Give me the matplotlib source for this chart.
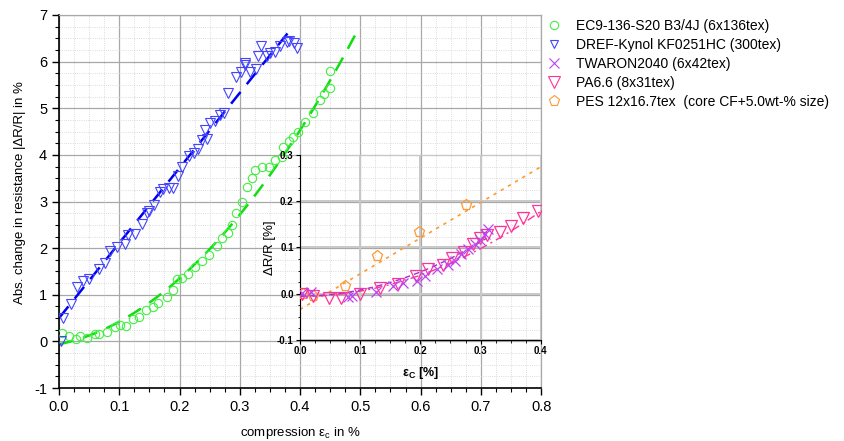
import numpy as np
import matplotlib
matplotlib.use('Agg')
import matplotlib.pyplot as plt
import matplotlib.ticker as ticker
from matplotlib.lines import Line2D

plt.rcParams['font.family'] = ['Liberation Sans', 'DejaVu Sans']
plt.rcParams['mathtext.default'] = 'regular'
plt.rcParams['axes.unicode_minus'] = False

# main plot: EC9 glass (green circles)
ec9_x = [0.0045, 0.017, 0.029, 0.035, 0.046, 0.060, 0.066, 0.079, 0.093, 0.102,
         0.111, 0.122, 0.132, 0.144, 0.156, 0.165, 0.179, 0.190, 0.195, 0.204,
         0.214, 0.226, 0.237, 0.249, 0.262, 0.270, 0.281, 0.287, 0.294, 0.303,
         0.312, 0.321, 0.325, 0.337, 0.349, 0.358, 0.370, 0.371, 0.381, 0.389,
         0.397, 0.408, 0.422, 0.433, 0.440, 0.449, 0.450]
ec9_y = [0.19, 0.12, 0.06, 0.12, 0.08, 0.15, 0.17, 0.21, 0.30, 0.35,
         0.33, 0.48, 0.53, 0.67, 0.73, 0.82, 0.95, 1.10, 1.33, 1.37,
         1.45, 1.60, 1.73, 1.85, 2.05, 2.21, 2.33, 2.50, 2.75, 2.98,
         3.32, 3.50, 3.68, 3.74, 3.75, 3.88, 3.95, 4.16, 4.29, 4.39,
         4.50, 4.71, 4.90, 5.17, 5.30, 5.44, 5.79]
ec9_fit = [22.1, 2.63, -0.06]
ec9_fit_range = [0.0, 0.493]

# main plot: DREF-Kynol (blue triangles)
dref_x = [0.003, 0.007, 0.020, 0.030, 0.040, 0.050, 0.067, 0.076, 0.085, 0.096,
          0.110, 0.115, 0.126, 0.137, 0.146, 0.150, 0.158, 0.168, 0.173, 0.183,
          0.190, 0.198, 0.204, 0.215, 0.224, 0.230, 0.237, 0.245, 0.242, 0.250,
          0.259, 0.267, 0.273, 0.281, 0.294, 0.302, 0.309, 0.309, 0.317, 0.327,
          0.331, 0.335, 0.345, 0.350, 0.359, 0.367, 0.378, 0.381, 0.390, 0.395]
dref_y = [0.02, 0.50, 0.80, 1.16, 1.30, 1.34, 1.55, 1.69, 1.93, 2.03,
          2.09, 2.28, 2.30, 2.51, 2.76, 2.80, 2.93, 3.21, 3.26, 3.30,
          3.30, 3.55, 3.75, 3.98, 4.04, 4.12, 4.32, 4.34, 4.54, 4.68,
          4.72, 4.86, 4.90, 5.32, 5.66, 5.77, 5.93, 5.97, 5.77, 5.85,
          6.11, 6.33, 6.12, 6.18, 6.20, 6.33, 6.43, 6.45, 6.40, 6.29]
dref_fit = [16.1, 0.5]
dref_fit_range = [0.0, 0.387]

# inset: TWARON (x markers)
twaron_x = [0.003, 0.018, 0.080, 0.086, 0.127, 0.155, 0.171, 0.194, 0.207, 0.227,
            0.246, 0.257, 0.268, 0.279, 0.290, 0.299, 0.307, 0.313]
twaron_y = [0.002, 0.003, -0.007, -0.004, 0.003, 0.016, 0.024, 0.027, 0.038, 0.053,
            0.063, 0.070, 0.085, 0.096, 0.107, 0.117, 0.130, 0.139]
twaron_fit = [1.3, 0.0, -0.005]
twaron_fit_range = [0.0, 0.31]

# inset: PA6.6 (pink triangles)
pa66_x = [0.004, 0.021, 0.049, 0.068, 0.100, 0.133, 0.163, 0.193, 0.213, 0.237,
          0.252, 0.273, 0.288, 0.299, 0.310, 0.332, 0.350, 0.370, 0.396]
pa66_y = [0.000, -0.006, -0.009, -0.009, 0.000, 0.013, 0.022, 0.038, 0.053, 0.063,
          0.078, 0.089, 0.107, 0.121, 0.126, 0.133, 0.146, 0.164, 0.179]
pa66_fit = [1.15, 0.0, -0.006]
pa66_fit_range = [0.0, 0.4]

# inset: PES (orange pentagons)
pes_x = [0.0055, 0.022, 0.075, 0.128, 0.198, 0.275]
pes_y = [0.000, -0.005, 0.016, 0.081, 0.133, 0.192]
pes_fit = [0.77, -0.034]
pes_fit_range = [0.0, 0.4]

labels = ['EC9-136-S20 B3/4J (6x136tex)', 'DREF-Kynol KF0251HC (300tex)',
          'TWARON2040 (6x42tex)', 'PA6.6 (8x31tex)',
          'PES 12x16.7tex  (core CF+5.0wt-% size)']

c_green, c_green_fit = '#44ee44', '#11dd11'
c_blue, c_blue_fit = '#4444ff', '#0000ee'
c_purple, c_purple_fit = '#bb44ee', '#9933cc'
c_pink = '#ff3399'
c_orange = '#ff9933'


def fit_line(ax, coeffs, rng, **kw):
    xx = np.linspace(rng[0], rng[1], 200)
    ax.plot(xx, np.polyval(coeffs, xx), **kw)


fig = plt.figure(figsize=(8.45, 4.41), dpi=100)
ax = fig.add_axes([0.0698, 0.120, 0.5706, 0.846])

ax.set_xlim(0, 0.8)
ax.set_ylim(-1, 7)
ax.xaxis.set_major_locator(ticker.MultipleLocator(0.1))
ax.xaxis.set_minor_locator(ticker.MultipleLocator(0.025))
ax.yaxis.set_major_locator(ticker.MultipleLocator(1))
ax.yaxis.set_minor_locator(ticker.MultipleLocator(0.25))
ax.xaxis.set_major_formatter(ticker.FormatStrFormatter('%.1f'))
ax.grid(which='major', color='#a8a8a8', lw=0.9)
ax.grid(which='minor', color='#d0d0d0', lw=0.6, ls=':')
ax.set_axisbelow(True)
ax.tick_params(which='major', direction='out', length=5, width=1, labelsize=10.5)
ax.tick_params(which='minor', direction='out', length=3, width=0.8)
for s in ['top', 'right']:
    ax.spines[s].set_color('#a8a8a8')
    ax.spines[s].set_linewidth(0.9)
for s in ['left', 'bottom']:
    ax.spines[s].set_linewidth(1.2)

ax.set_xlabel('compression ε$_c$ in %', fontsize=9.5, labelpad=8)
ax.set_ylabel('Abs. change in resistance |ΔR/R| in %', fontsize=9.5)
ax.yaxis.set_label_coords(-0.068, 0.525)

fit_line(ax, dref_fit, dref_fit_range, color=c_blue_fit, ls=(0, (6, 4)), lw=1.8, zorder=2)
fit_line(ax, ec9_fit, ec9_fit_range, color=c_green_fit, ls=(0, (6, 4)), lw=1.8, zorder=2)
ax.plot(ec9_x, ec9_y, 'o', ms=6, mfc='none', mec=c_green, mew=0.8, zorder=3)
ax.plot(dref_x, dref_y, 'v', ms=7, mfc='none', mec=c_blue, mew=0.8, zorder=3)

# inset
ins = fig.add_axes([0.355, 0.229, 0.285, 0.420])
ins.patch.set_alpha(0)
ins.set_xlim(0, 0.4)
ins.set_ylim(-0.1, 0.3)
ins.xaxis.set_major_locator(ticker.MultipleLocator(0.1))
ins.xaxis.set_minor_locator(ticker.MultipleLocator(0.025))
ins.yaxis.set_major_locator(ticker.MultipleLocator(0.1))
ins.yaxis.set_minor_locator(ticker.MultipleLocator(0.025))
ins.xaxis.set_major_formatter(ticker.FormatStrFormatter('%.1f'))
ins.yaxis.set_major_formatter(ticker.FormatStrFormatter('%.1f'))
ins.grid(which='major', color='#c8c8c8', lw=1.4)
ins.set_axisbelow(True)
for s in ['top', 'right']:
    ins.spines[s].set_visible(False)
ins.tick_params(which='major', direction='out', length=3, width=0.8, labelsize=7, pad=1.5)
ins.tick_params(which='minor', direction='out', length=1.8, width=0.6)
for lab in ins.get_xticklabels() + ins.get_yticklabels():
    lab.set_fontweight('bold')
ins.set_xlabel('ε$_C$ [%]', fontsize=9, fontweight='bold', labelpad=6)
ins.set_ylabel('ΔR/R [%]', fontsize=9.5, labelpad=1)

fit_line(ins, pes_fit, pes_fit_range, color=c_orange, ls=(0, (2, 3)), lw=1.2, zorder=2)
fit_line(ins, pa66_fit, pa66_fit_range, color=c_pink, ls=(0, (6, 3, 1.5, 3)), lw=1.0, zorder=2)
fit_line(ins, twaron_fit, twaron_fit_range, color=c_purple_fit, ls=(0, (4, 3)), lw=1.0, zorder=2)
ins.plot(pes_x, pes_y, 'p', ms=8, mfc='none', mec=c_orange, mew=0.9, zorder=3)
ins.plot(pa66_x, pa66_y, 'v', ms=8, mfc='none', mec=c_pink, mew=0.9, zorder=3)
ins.plot(twaron_x, twaron_y, 'x', ms=7, mec=c_purple, mew=0.9, zorder=3)

handles = [
    Line2D([], [], ls='none', marker='o', ms=6, mfc='none', mec=c_green, mew=0.8),
    Line2D([], [], ls='none', marker='v', ms=6, mfc='none', mec=c_blue, mew=0.8),
    Line2D([], [], ls='none', marker='x', ms=7, mec=c_purple, mew=0.8),
    Line2D([], [], ls='none', marker='v', ms=8, mfc='none', mec=c_pink, mew=0.8),
    Line2D([], [], ls='none', marker='p', ms=8, mfc='none', mec=c_orange, mew=0.8),
]
fig.legend(handles, labels, loc='upper left', bbox_to_anchor=(0.631, 0.985),
           frameon=False, fontsize=10, handlelength=1.2, handletextpad=1.0,
           labelspacing=0.35)

fig.savefig('out.png', dpi=100)
